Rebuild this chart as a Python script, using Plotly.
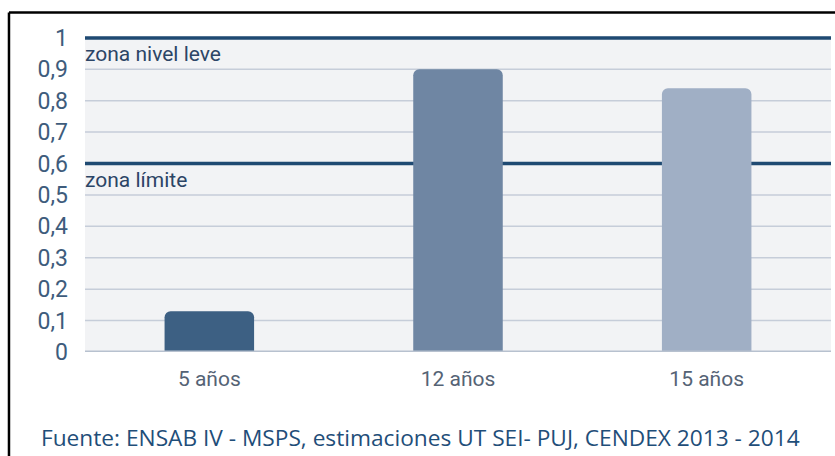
import plotly.graph_objects as go

# data
categorias = ["5 años", "12 años", "15 años"]
valores = [0.13, 0.9, 0.84]
colores = ["#3d6083", "#6f86a3", "#a0afc5"]
y_ticks = [0, 0.1, 0.2, 0.3, 0.4, 0.5, 0.6, 0.7, 0.8, 0.9, 1]
y_labels = ["0", "0,1", "0,2", "0,3", "0,4", "0,5", "0,6", "0,7", "0,8", "0,9", "1"]
zonas = [(1.0, "zona nivel leve"), (0.6, "zona límite")]
fuente = "Fuente: ENSAB IV - MSPS, estimaciones UT SEI- PUJ, CENDEX 2013 - 2014"

NARROW = "Roboto, sans-serif"

fig = go.Figure(
    data=[go.Bar(x=categorias, y=valores, marker_color=colores,
                 marker_line_width=0, width=0.36)],
    layout=go.Layout(
        width=835, height=456,
        margin=dict(l=85, r=4, t=36, b=104),
        paper_bgcolor="white",
        plot_bgcolor="#f2f3f5",
        barcornerradius=6,
        showlegend=False,
        font=dict(family=NARROW, size=23, color="#3e5c7c"),
        xaxis=dict(showgrid=False, zeroline=False, showline=False, ticks="",
                   tickfont=dict(color="#556375", size=21),
                   ticklabelstandoff=12),
        # a hair above 1 so the top zone line isn't clipped in half
        yaxis=dict(range=[0, 1.006], tickvals=y_ticks, ticktext=y_labels,
                   showgrid=False, zeroline=False, showline=False, ticks="",
                   ticklabelstandoff=16),
    )
)

# gridlines as shapes so the zone lines can sit on top of them
zona_vals = [v for v, _ in zonas]
for t in y_ticks:
    if t == 0 or t in zona_vals:
        continue
    fig.add_shape(type="line", xref="paper", yref="y", x0=0, x1=1, y0=t, y1=t,
                  line=dict(color="#c6cdd9", width=1.5), layer="below")

# gray baseline
fig.add_shape(type="line", xref="paper", yref="y", x0=0, x1=1, y0=0, y1=0,
              line=dict(color="#b7c1cf", width=3), layer="above")

# zone reference lines with labels (behind bars)
for val, txt in zonas:
    fig.add_shape(type="line", xref="paper", yref="y", x0=0, x1=1, y0=val, y1=val,
                  line=dict(color="#1f4a72", width=3.5), layer="below")
    fig.add_annotation(x=0, xref="paper", y=val, yref="y", text=txt,
                       showarrow=False, xanchor="left", yanchor="top", yshift=-2,
                       xshift=-2,
                       font=dict(family=NARROW, size=21, color="#2c4566"))

# frame of the picture: left and top black border
fig.add_shape(type="line", xref="paper", yref="paper", x0=-0.1019, x1=-0.1019,
              y0=-0.35, y1=1.074, line=dict(color="black", width=2.5))
fig.add_shape(type="line", xref="paper", yref="paper", x0=-0.1019, x1=1.01,
              y0=1.074, y1=1.074, line=dict(color="black", width=2.5))

fig.add_annotation(x=-0.061, xref="paper", y=-0.27, yref="paper", text=fuente,
                   showarrow=False, xanchor="left", yanchor="middle",
                   font=dict(family="Open Sans, sans-serif", size=22.7, color="#1f4e79"))

# page has a default 8px body margin, drop it so the figure sits at 0,0
fig.write_html("out.html", config={"displayModeBar": False},
               post_script="document.body.style.margin='0';")
